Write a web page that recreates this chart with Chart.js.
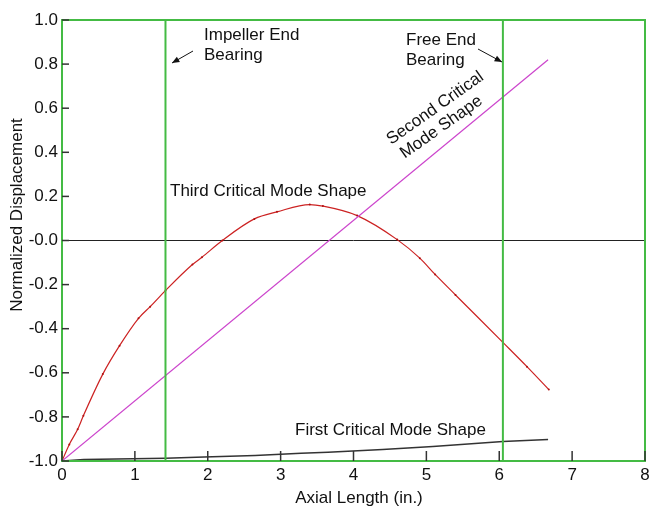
<!DOCTYPE html>
<html>
<head>
<meta charset="utf-8">
<script src="https://cdn.jsdelivr.net/npm/chart.js@4.4.1/dist/chart.umd.min.js"></script>
<style>
  html, body { margin: 0; padding: 0; background: #fff; }
  #chart { display: block; }
</style>
</head>
<body>
<canvas id="chart" width="649" height="506"></canvas>
<script>
// mode shape data (axial length in inches, normalized displacement)
const thirdX = [0, 0.1, 0.215, 0.293, 0.56, 0.79, 1.05, 1.21, 1.42, 1.79, 1.92, 2.2, 2.64, 2.95, 3.4, 3.58, 4.05, 4.6, 4.91, 5.12, 5.4, 6.05, 6.38, 6.68];
const thirdY = [-1, -0.925, -0.856, -0.795, -0.606, -0.477, -0.353, -0.3, -0.227, -0.109, -0.076, 0, 0.098, 0.13, 0.163, 0.156, 0.113, 0.004, -0.08, -0.154, -0.247, -0.462, -0.572, -0.676];
const secondX = [0, 6.67];
const secondY = [-1, 0.82];
const firstX = [0, 0.3, 1.42, 1.95, 2.65, 3.28, 3.65, 4.4, 5.09, 6.05, 6.67];
const firstY = [-1, -0.993, -0.988, -0.982, -0.975, -0.965, -0.96, -0.948, -0.934, -0.912, -0.903];
// bearing locations
const bearingX = [1.42, 6.05];

const FONT = 'Liberation Sans, Arial, sans-serif';
const GREEN = '#44bb44';

function pts(xs, ys) {
  return xs.map(function(x, i) { return { x: x, y: ys[i] }; });
}

// inward ticks, green frame and text annotations
const decorPlugin = {
  id: 'decor',
  afterDatasetsDraw(chart) {
    const { ctx, chartArea: a, scales: { x, y } } = chart;
    ctx.save();
    ctx.strokeStyle = GREEN;
    ctx.lineWidth = 2;
    ctx.strokeRect(a.left, a.top, a.right - a.left, a.bottom - a.top);

    ctx.strokeStyle = '#333';
    ctx.lineWidth = 1.5;
    x.ticks.forEach(function(t) {
      const px = x.getPixelForValue(t.value);
      ctx.beginPath();
      ctx.moveTo(px, a.bottom);
      ctx.lineTo(px, a.bottom - 10);
      ctx.stroke();
    });
    y.ticks.forEach(function(t) {
      const py = y.getPixelForValue(t.value);
      ctx.beginPath();
      ctx.moveTo(a.left, py);
      ctx.lineTo(a.left + 7, py);
      ctx.stroke();
    });
    ctx.restore();
  },
  afterDraw(chart) {
    const ctx = chart.ctx;
    ctx.save();
    ctx.fillStyle = '#111';
    ctx.font = '17px ' + FONT;
    ctx.textAlign = 'left';
    ctx.textBaseline = 'alphabetic';
    ctx.fillText('Impeller End', 204, 40);
    ctx.fillText('Bearing', 204, 60);
    ctx.fillText('Free End', 406, 45);
    ctx.fillText('Bearing', 406, 65);
    ctx.fillText('Third Critical Mode Shape', 170, 196);
    ctx.fillText('First Critical Mode Shape', 295, 435);

    // rotated label along the second mode line
    ctx.save();
    ctx.translate(438, 112);
    ctx.rotate(-35.3 * Math.PI / 180);
    ctx.textAlign = 'center';
    ctx.fillText('Second Critical', 0, 0);
    ctx.fillText('Mode Shape', -6, 19);
    ctx.restore();

    // axis titles
    ctx.textAlign = 'center';
    ctx.fillText('Axial Length (in.)', 359, 503);
    ctx.save();
    ctx.translate(22, 215);
    ctx.rotate(-Math.PI / 2);
    ctx.fillText('Normalized Displacement', 0, 0);
    ctx.restore();

    // arrows
    function arrow(x1, y1, x2, y2) {
      const ang = Math.atan2(y2 - y1, x2 - x1);
      ctx.strokeStyle = '#111';
      ctx.lineWidth = 1;
      ctx.beginPath();
      ctx.moveTo(x1, y1);
      ctx.lineTo(x2, y2);
      ctx.stroke();
      ctx.beginPath();
      ctx.moveTo(x2, y2);
      ctx.lineTo(x2 - 8 * Math.cos(ang - 0.4), y2 - 8 * Math.sin(ang - 0.4));
      ctx.lineTo(x2 - 8 * Math.cos(ang + 0.4), y2 - 8 * Math.sin(ang + 0.4));
      ctx.closePath();
      ctx.fill();
    }
    arrow(193, 51, 172, 63);
    arrow(478, 49, 502, 62);
    ctx.restore();
  }
};

const datasets = [
  {
    data: pts([bearingX[0], bearingX[0]], [-1, 1]),
    borderColor: GREEN, borderWidth: 2, pointRadius: 0
  },
  {
    data: pts([bearingX[1], bearingX[1]], [-1, 1]),
    borderColor: GREEN, borderWidth: 2, pointRadius: 0
  },
  {
    data: pts(secondX, secondY),
    borderColor: '#cc44cc', borderWidth: 1.2, pointRadius: 0
  },
  {
    data: pts(thirdX, thirdY),
    borderColor: '#cc2222', borderWidth: 1.2, cubicInterpolationMode: 'monotone',
    pointRadius: 1, pointBackgroundColor: '#b01010', pointBorderWidth: 0
  },
  {
    data: pts(firstX, firstY),
    borderColor: '#333', borderWidth: 1.5, pointRadius: 0
  }
];

new Chart(document.getElementById('chart'), {
  type: 'line',
  data: { datasets: datasets },
  options: {
    responsive: false,
    animation: false,
    devicePixelRatio: 1,
    layout: { padding: { top: 20, right: 4, left: 0, bottom: 0 } },
    plugins: { legend: { display: false }, tooltip: { enabled: false } },
    scales: {
      x: {
        type: 'linear', min: 0, max: 8,
        border: { display: false },
        grid: { display: false, drawTicks: false },
        ticks: { stepSize: 1, padding: 4, color: '#111', font: { family: FONT, size: 17 } },
        afterFit: function(s) { s.height = 45; s.paddingLeft = 0; s.paddingRight = 0; }
      },
      y: {
        min: -1, max: 1,
        border: { display: false },
        grid: {
          drawTicks: false,
          lineWidth: 1,
          color: function(c) { return c.tick && Math.abs(c.tick.value) < 1e-9 ? '#222' : 'rgba(0,0,0,0)'; }
        },
        ticks: {
          stepSize: 0.2, padding: 4, color: '#111', font: { family: FONT, size: 17 },
          callback: function(v) { return Math.abs(v) < 1e-9 ? '-0.0' : v.toFixed(1); }
        },
        afterFit: function(s) { s.width = 62; s.paddingTop = 0; s.paddingBottom = 0; }
      }
    }
  },
  plugins: [decorPlugin]
});
</script>
</body>
</html>
